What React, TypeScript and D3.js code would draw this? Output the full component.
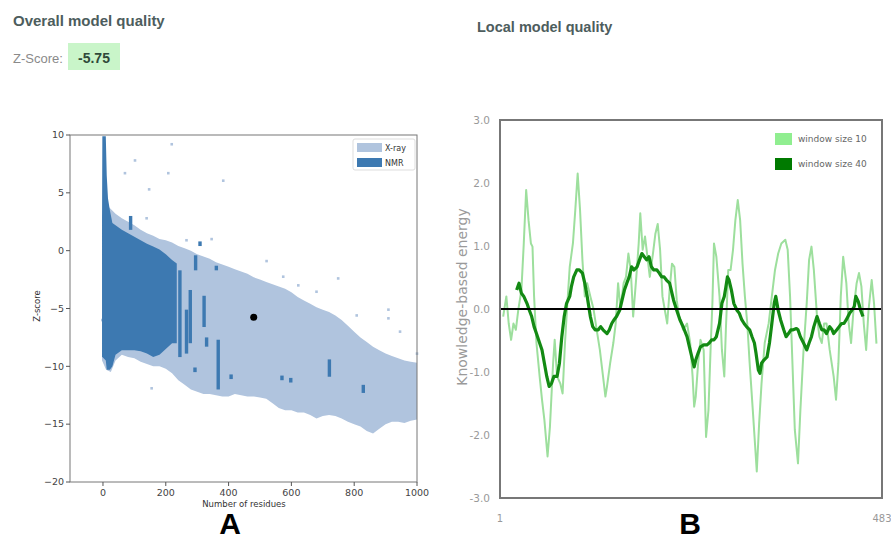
import React from "react";
import * as d3 from "d3";

// ---------- panel A: Z-score vs number of residues ----------
// outline of the dense X-ray cloud
const xrayRes = [-3, 10, 25, 40, 60, 80, 100, 120, 140, 160, 180, 200, 220, 240, 260, 280, 300, 320, 340, 360, 380, 400, 420, 440, 460, 480, 500, 520, 540, 560, 580, 600, 620, 640, 660, 680, 700, 720, 740, 760, 780, 800, 820, 840, 860, 880, 900, 920, 940, 960, 980, 1000];
const xrayUpper = [3.0, 4.0, 3.6, 3.2, 2.8, 2.5, 2.2, 1.8, 1.5, 1.3, 1.0, 0.9, 0.7, 0.4, 0.2, 0.0, -0.3, -0.5, -0.7, -1.0, -1.2, -1.4, -1.6, -1.8, -2.0, -2.3, -2.5, -2.7, -2.9, -3.1, -3.3, -3.6, -4.0, -4.3, -4.6, -4.9, -5.1, -5.3, -5.6, -6.0, -6.5, -7.0, -7.5, -7.9, -8.3, -8.6, -8.9, -9.1, -9.3, -9.5, -9.6, -9.7];
const xrayLower = [-9.5, -10.3, -10.5, -9.5, -9.0, -9.2, -9.3, -9.6, -9.8, -10.0, -10.0, -10.2, -10.6, -11.2, -11.6, -12.0, -12.2, -12.4, -12.4, -12.5, -12.6, -12.6, -12.4, -12.5, -12.6, -12.6, -12.7, -12.8, -13.2, -13.6, -13.8, -13.8, -14.0, -14.0, -14.2, -14.5, -14.3, -14.2, -14.3, -14.5, -14.8, -15.0, -15.2, -15.6, -15.8, -15.4, -15.0, -14.8, -14.8, -14.9, -14.7, -14.6];

// outline of the NMR cloud
const nmrRes = [-3, -2, 9, 12, 16, 22, 30, 40, 60, 80, 100, 120, 140, 160, 180, 200, 220, 235];
const nmrUpper = [2.4, 9.9, 9.9, 6.5, 4.5, 3.5, 2.4, 2.2, 1.8, 1.5, 1.2, 0.9, 0.6, 0.35, 0.1, -0.3, -0.8, -1.1];
const nmrLower = [-9.2, -9.2, -9.5, -10.3, -10.3, -10.3, -10.0, -9.0, -8.6, -8.6, -8.6, -8.7, -8.9, -9.2, -9.0, -8.5, -8.0, -8.0];

// NMR streaks outside the main cloud: residues, top, bottom
const stripRes = [88, 245, 266, 278, 295, 309, 322, 330, 361, 367, 293, 408, 570, 598, 721, 829];
const stripTop = [3.0, -1.7, -5.1, -3.4, -0.4, 0.8, -3.9, -7.5, -1.3, -7.7, -10.1, -10.7, -10.8, -11.0, -9.4, -11.6];
const stripBottom = [1.8, -9.2, -8.9, -8.0, -1.7, 0.4, -6.6, -8.3, -1.7, -12.0, -10.5, -11.1, -11.2, -11.4, -10.9, -12.3];

// sparse X-ray points away from the cloud
const outRes = [219, 102, 70, 208, 383, 147, 139, 266, 346, 521, 574, 622, 749, 680, 808, 909, 909, 946, 1000, 155, -2];
const outZ = [9.2, 7.8, 6.7, 6.7, 6.05, 5.3, 2.8, 0.9, 1.0, -0.9, -2.25, -3.0, -2.4, -3.55, -5.6, -5.1, -5.85, -7.0, -8.9, -11.9, -6.0];

const modelRes = 480;
const modelZ = -5.75;

const zTicks = [10, 5, 0, -5, -10, -15, -20];
const resTicks = [0, 200, 400, 600, 800, 1000];

// ---------- panel B: local model quality ----------
const win10Res = [5, 9, 12, 15, 18, 21, 24, 28, 31, 34, 37, 40, 42, 44, 47, 51, 54, 57, 61, 64, 68, 70, 73, 77, 80, 83, 86, 89, 93, 96, 99, 102, 105, 108, 111, 115, 119, 123, 127, 131, 134, 136, 140, 144, 147, 150, 153, 157, 160, 163, 166, 169, 173, 176, 178, 181, 184, 187, 190, 194, 197, 200, 203, 206, 209, 212, 215, 218, 221, 224, 227, 232, 237, 241, 244, 246, 248, 251, 254, 258, 261, 264, 267, 269, 271, 274, 278, 281, 284, 286, 289, 292, 295, 298, 301, 304, 307, 310, 313, 316, 320, 323, 325, 328, 331, 335, 340, 344, 348, 352, 356, 361, 364, 367, 370, 373, 377, 380, 384, 388, 391, 394, 397, 401, 404, 407, 410, 413, 417, 422, 425, 428, 431, 434, 438, 441, 444, 447, 451, 454, 457, 460, 463, 466, 470, 473, 476];
const win10Val = [-0.12, 0.2, -0.23, -0.49, -0.23, -0.33, -0.02, 0.3, 1.04, 1.89, 1.41, 1.04, 0.99, 0.2, -0.54, -1.07, -1.44, -1.76, -2.34, -1.87, -0.86, -0.49, -1.07, -1.18, -1.34, -0.54, 0.09, 0.67, 1.04, 1.57, 2.15, 1.57, 0.78, 0.2, 0.41, 0.2, 0.0, -0.33, -0.65, -1.07, -1.39, -1.23, -0.86, -0.54, -0.23, 0.41, 0.0, 0.41, 0.51, 0.88, 0.62, -0.12, 0.51, 1.04, 1.52, 0.94, 1.15, 0.83, 0.51, 0.88, 1.19, 1.35, 0.94, 0.2, -0.02, -0.23, 0.3, 0.72, 0.67, 0.14, -0.12, -0.33, -0.23, -0.54, -1.07, -1.55, -1.39, -0.86, -0.49, -0.65, -2.03, -1.61, -0.54, 0.09, 1.04, 0.83, 0.2, -0.65, -1.07, -0.33, 0.62, 0.62, 0.94, 1.41, 1.73, 1.41, 0.72, 0.2, -0.23, -0.86, -1.61, -2.19, -2.58, -1.81, -1.18, -0.54, -0.23, 0.2, 0.62, 0.88, 1.04, 1.1, 0.94, 0.2, -0.86, -1.92, -2.45, -1.61, -0.65, 0.09, 0.78, 0.99, 0.62, -0.12, -0.44, -0.54, -0.23, -0.23, -0.65, -1.07, -1.44, -0.86, 0.2, 0.83, 0.41, -0.23, -0.54, -0.02, 0.41, 0.57, 0.36, -0.23, -0.65, -0.02, 0.46, 0.08, -0.55];

const win40Res = [22, 25, 28, 31, 35, 38, 41, 44, 47, 51, 54, 57, 60, 63, 66, 69, 73, 76, 79, 82, 85, 89, 91, 94, 98, 101, 105, 108, 111, 115, 118, 121, 125, 128, 131, 136, 139, 142, 145, 148, 152, 155, 158, 161, 164, 167, 170, 174, 177, 180, 183, 186, 189, 192, 195, 199, 202, 205, 208, 211, 215, 220, 224, 228, 232, 237, 240, 243, 246, 248, 251, 254, 258, 262, 265, 268, 271, 274, 278, 281, 284, 286, 288, 290, 293, 296, 300, 303, 306, 309, 312, 316, 319, 322, 324, 327, 329, 331, 334, 338, 341, 344, 347, 349, 352, 355, 359, 362, 365, 368, 371, 375, 377, 380, 384, 388, 391, 394, 397, 401, 404, 407, 410, 413, 417, 420, 422, 426, 429, 432, 435, 438, 442, 445, 448, 450, 453, 456, 459];
const win40Val = [0.3, 0.41, 0.25, 0.2, 0.09, -0.02, -0.12, -0.28, -0.39, -0.54, -0.65, -0.86, -1.07, -1.23, -1.18, -1.07, -1.07, -0.86, -0.44, -0.12, 0.09, 0.2, 0.35, 0.51, 0.62, 0.62, 0.57, 0.41, 0.2, -0.12, -0.28, -0.33, -0.33, -0.28, -0.33, -0.39, -0.33, -0.23, -0.17, -0.12, -0.02, 0.14, 0.3, 0.41, 0.51, 0.67, 0.62, 0.67, 0.78, 0.88, 0.83, 0.78, 0.83, 0.67, 0.62, 0.62, 0.57, 0.51, 0.51, 0.46, 0.41, 0.14, -0.02, -0.17, -0.28, -0.44, -0.6, -0.76, -0.92, -0.81, -0.7, -0.6, -0.57, -0.57, -0.54, -0.49, -0.49, -0.44, -0.23, 0.09, 0.2, 0.35, 0.51, 0.46, 0.3, 0.09, -0.02, -0.07, -0.17, -0.23, -0.28, -0.33, -0.44, -0.54, -0.7, -0.97, -1.02, -0.86, -0.81, -0.76, -0.54, -0.23, 0.09, 0.2, -0.02, -0.17, -0.33, -0.44, -0.39, -0.33, -0.33, -0.31, -0.33, -0.44, -0.54, -0.65, -0.54, -0.44, -0.28, -0.12, -0.23, -0.33, -0.33, -0.39, -0.28, -0.33, -0.39, -0.33, -0.28, -0.23, -0.23, -0.17, -0.07, -0.02, 0.04, 0.2, 0.12, -0.02, -0.12];

const energyTicks = [3, 2, 1, 0, -1, -2, -3];
const seqRange = [1, 483];

const zScoreText = "-5.75";

export default function App() {
  // panel A scales
  const xA = d3.scaleLinear().domain([-105, 1000]).range([70, 417]);
  const yA = d3.scaleLinear().domain([-20, 10]).range([482, 135]);

  const xrayArea = d3
    .area<number>()
    .x((d, i) => xA(xrayRes[i]))
    .y0((d, i) => yA(xrayLower[i]))
    .y1((d, i) => yA(xrayUpper[i]));
  const nmrArea = d3
    .area<number>()
    .x((d, i) => xA(nmrRes[i]))
    .y0((d, i) => yA(nmrLower[i]))
    .y1((d, i) => yA(nmrUpper[i]));

  // panel B scales
  const xB = d3.scaleLinear().domain(seqRange).range([500, 882]);
  const yB = d3.scaleLinear().domain([-3, 3]).range([498, 120]);
  const line10 = d3
    .line<number>()
    .x((d, i) => xB(win10Res[i]))
    .y((d) => yB(d));
  const line40 = d3
    .line<number>()
    .x((d, i) => xB(win40Res[i]))
    .y((d) => yB(d));

  const lightBlue = "#b0c4de";
  const darkBlue = "#3d79b1";
  const sans = "'DejaVu Sans', sans-serif";

  return (
    <svg
      width={891}
      height={541}
      style={{ position: "absolute", left: 0, top: 0, background: "#fff" }}
      fontFamily="'Liberation Sans', Arial, sans-serif"
    >
      {/* headers */}
      <text x={13} y={26} fontSize={15} fontWeight="bold" fill="#4d5d5d">
        Overall model quality
      </text>
      <text x={13} y={63} fontSize={13} fill="#8a8a8a">
        Z-Score:
      </text>
      <rect x={68} y={43} width={52} height={27} fill="#c9f5c9" />
      <text x={94} y={63} fontSize={14} fontWeight="bold" fill="#2f4a3a" textAnchor="middle">
        {zScoreText}
      </text>
      <text x={477} y={32} fontSize={14.5} fontWeight="bold" fill="#4d5d5d">
        Local model quality
      </text>

      {/* panel A */}
      <g>
        <path d={xrayArea(xrayRes) || ""} fill={lightBlue} />
        {outRes.map((r, i) => (
          <rect key={"o" + i} x={xA(r) - 1.3} y={yA(outZ[i]) - 1.3} width={2.6} height={2.6} fill={lightBlue} />
        ))}
        <path d={nmrArea(nmrRes) || ""} fill={darkBlue} />
        {stripRes.map((r, i) => (
          <rect
            key={"s" + i}
            x={xA(r) - 1.7}
            y={yA(stripTop[i])}
            width={3.4}
            height={Math.max(3, yA(stripBottom[i]) - yA(stripTop[i]))}
            fill={darkBlue}
          />
        ))}
        <circle cx={xA(modelRes)} cy={yA(modelZ)} r={3.5} fill="#000" />

        <rect x={70} y={135} width={347} height={347} fill="none" stroke="#777" strokeWidth={1} />
        {zTicks.map((t) => (
          <g key={"zt" + t}>
            <line x1={66} x2={70} y1={yA(t)} y2={yA(t)} stroke="#555" />
            <text x={64} y={yA(t) + 3.3} fontSize={9.5} fill="#444" textAnchor="end" fontFamily={sans}>
              {t < 0 ? "\u2212" + Math.abs(t) : t}
            </text>
          </g>
        ))}
        {resTicks.map((t) => (
          <g key={"rt" + t}>
            <line x1={xA(t)} x2={xA(t)} y1={482} y2={486} stroke="#555" />
            <text x={xA(t)} y={496} fontSize={9.5} fill="#444" textAnchor="middle" fontFamily={sans}>
              {t}
            </text>
          </g>
        ))}
        <text transform="translate(40,306) rotate(-90)" fontSize={8.5} fill="#333" textAnchor="middle" fontFamily={sans}>
          Z-score
        </text>
        <text x={244} y={507} fontSize={8.5} fill="#333" textAnchor="middle" fontFamily={sans}>
          Number of residues
        </text>

        {/* legend */}
        <rect x={353} y={139} width={62} height={31} rx={2} fill="#fff" stroke="#ddd" />
        <rect x={357} y={143} width={25} height={9} fill={lightBlue} />
        <rect x={357} y={158} width={25} height={9} fill={darkBlue} />
        <text x={385} y={150.5} fontSize={8} fill="#333" fontFamily={sans}>
          X-ray
        </text>
        <text x={385} y={165.5} fontSize={8} fill="#333" fontFamily={sans}>
          NMR
        </text>
      </g>

      {/* panel B */}
      <g>
        <path d={line10(win10Val) || ""} fill="none" stroke="#9ddf9d" strokeWidth={2} strokeLinejoin="round" />
        <path d={line40(win40Val) || ""} fill="none" stroke="#138a13" strokeWidth={3.2} strokeLinejoin="round" />
        <line x1={xB(seqRange[0])} x2={xB(seqRange[1])} y1={yB(0)} y2={yB(0)} stroke="#000" strokeWidth={2} />
        <rect x={500} y={120} width={382} height={378} fill="none" stroke="#777" strokeWidth={2} />
        {energyTicks.map((t) => (
          <text key={"et" + t} x={490} y={yB(t) + 3.5} fontSize={10.5} fill="#999" textAnchor="end" fontFamily={sans}>
            {t.toFixed(1)}
          </text>
        ))}
        <text x={xB(seqRange[0])} y={522} fontSize={10} fill="#999" textAnchor="middle" fontFamily={sans}>
          {seqRange[0]}
        </text>
        <text x={xB(seqRange[1])} y={522} fontSize={10} fill="#999" textAnchor="middle" fontFamily={sans}>
          {seqRange[1]}
        </text>
        <text transform="translate(467,297) rotate(-90)" fontSize={14} fill="#9a9a9a" textAnchor="middle" fontFamily={sans}>
          Knowledge-based energy
        </text>

        {/* legend */}
        <rect x={775} y={133} width={17} height={12} fill="#90ee90" />
        <rect x={775} y={158} width={17} height={12} fill="#007a00" />
        <text x={798} y={142} fontSize={9} fill="#666" fontFamily={sans}>
          window size 10
        </text>
        <text x={798} y={167} fontSize={9} fill="#666" fontFamily={sans}>
          window size 40
        </text>
      </g>

      {/* panel letters */}
      <text x={230} y={534} fontSize={30} fontWeight="bold" fill="#000" textAnchor="middle">
        A
      </text>
      <text x={690} y={534} fontSize={30} fontWeight="bold" fill="#000" textAnchor="middle">
        B
      </text>
    </svg>
  );
}
